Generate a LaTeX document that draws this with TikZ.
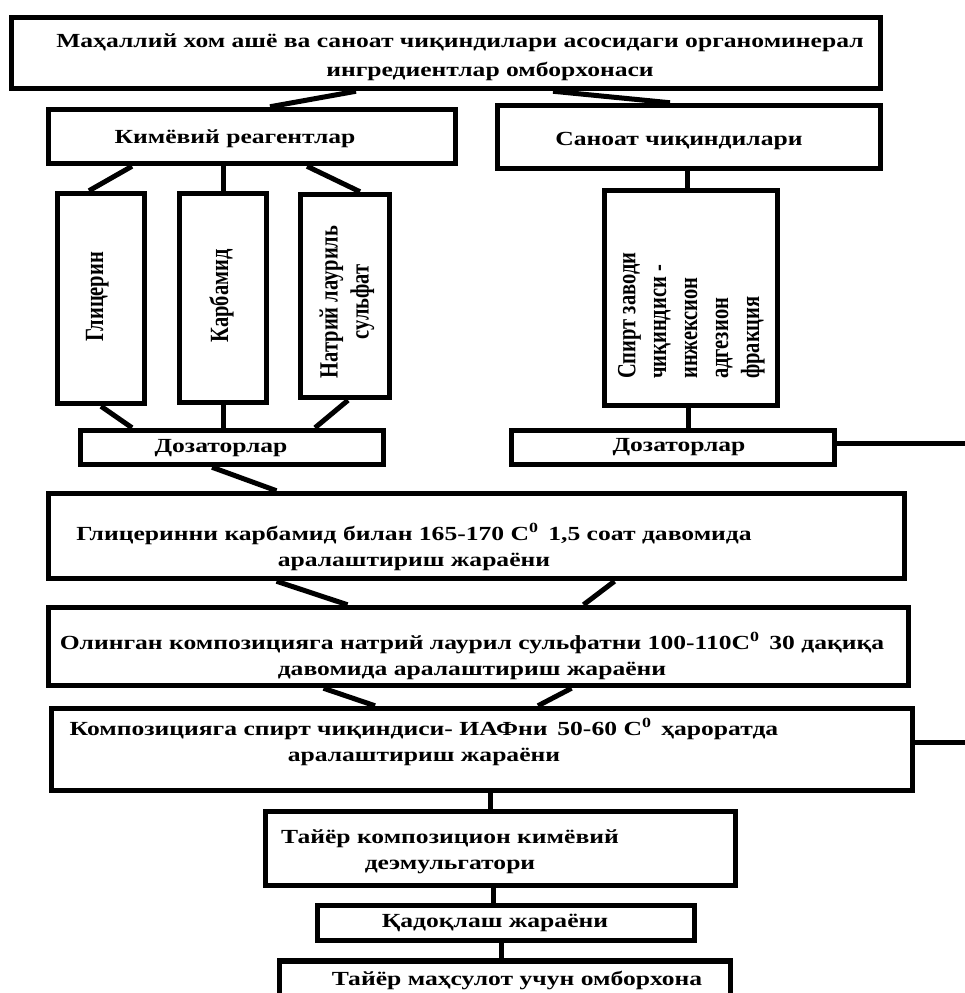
\documentclass[tikz,border=0pt]{standalone}
\usepackage{fontspec}
\setmainfont{Liberation Serif}
\newfontfamily\labelfont[FakeStretch=1.28]{Liberation Serif}
\usetikzlibrary{positioning}

% rotated text, widened across the lines
\newcommand{\vtext}[2]{\scalebox{1.28}[1]{\rotatebox{90}{\begin{tabular}{@{}#1@{}}#2\end{tabular}}}}

\tikzset{
    box/.style={draw, line width=5.5pt, rectangle, inner sep=0pt},
    link/.style={line width=5pt},
    lbl/.style={font=\labelfont\bfseries\fontsize{20}{26}\selectfont, align=center, inner sep=0pt},
    vlbl/.style={font=\bfseries\fontsize{20.5}{24.2}\selectfont, inner sep=0pt}
}

\begin{document}
\begin{tikzpicture}[x=1pt, y=-1pt]
    \useasboundingbox (0,0) rectangle (964,993);

    % Boxes
    \node[box, minimum width=869, minimum height=71] (store) at (446,53) {};
    \node[box, minimum width=407, minimum height=54] (chem) at (252,136.5) {};
    \node[box, minimum width=383, minimum height=63] (waste) at (689,137) {};
    \node[box, minimum width=87, minimum height=210] (glyc) at (101,298.5) {};
    \node[box, minimum width=87, minimum height=209] (carb) at (223,298) {};
    \node[box, minimum width=89, minimum height=203] (sls) at (345,296) {};
    \node[box, minimum width=173, minimum height=215] (spirt) at (691,298) {};
    \node[box, minimum width=303, minimum height=34] (dosL) at (232,447.5) {};
    \node[box, minimum width=323, minimum height=34] (dosR) at (673,447.5) {};
    \node[box, minimum width=856, minimum height=85] (mixA) at (476.5,536) {};
    \node[box, minimum width=860, minimum height=78] (mixB) at (478.5,646.5) {};
    \node[box, minimum width=861, minimum height=82] (mixC) at (482,749.5) {};
    \node[box, minimum width=470, minimum height=74] (ready) at (500.5,848.5) {};
    \node[box, minimum width=377, minimum height=35] (pack) at (506,923) {};
    \node[box, minimum width=451, minimum height=40] (depot) at (505,981) {};

    % Texts
    \node[lbl, font=\labelfont\bfseries\fontsize{20}{29}\selectfont] (t-store) at (460,57)
        {Маҳаллий хом ашё ва саноат чиқиндилари асосидаги органоминерал\\\hspace*{60pt}ингредиентлар омборхонаси};
    \node[lbl] (t-chem) at (235,139) {Кимёвий реагентлар};
    \node[lbl] (t-waste) at (679,141) {Саноат чиқиндилари};
    \node[vlbl] (t-glyc) at (97,297) {\vtext{c}{Глицерин}};
    \node[vlbl] (t-carb) at (222,296) {\vtext{c}{Карбамид}};
    \node[vlbl] (t-sls) at (347,302) {\vtext{c}{Натрий лауриль\\сульфат}};
    \node[vlbl, anchor=south] (t-spirt) at (691,379)
        {\vtext{l}{Спирт заводи\\чиқиндиси -\\инжексион\\адгезион\\фракция}};
    \node[lbl] (t-dosL) at (221,448) {Дозаторлар};
    \node[lbl] (t-dosR) at (679,447) {Дозаторлар};
    \node[lbl] (t-mixA) at (414,547)
        {Глицеринни карбамид билан 165-170 С\textsuperscript{0}\, 1,5 соат давомида\\аралаштириш жараёни};
    \node[lbl] (t-mixB) at (472,656)
        {Олинган композицияга натрий лаурил сульфатни 100-110С\textsuperscript{0}\, 30 дақиқа\\давомида аралаштириш жараёни};
    \node[lbl] (t-mixC) at (424,742)
        {Композицияга спирт чиқиндиси- ИАФни\, 50-60 С\textsuperscript{0}\, ҳароратда\\аралаштириш жараёни};
    \node[lbl] (t-ready) at (450,852) {Тайёр композицион кимёвий\\деэмульгатори};
    \node[lbl] (t-pack) at (495,923) {Қадоқлаш жараёни};
    \node[lbl] (t-depot) at (517,980) {Тайёр маҳсулот учун омборхона};

    % Connectors
    \coordinate (edgeA) at (966,443);
    \coordinate (edgeB) at (966,742);
    \draw[link] ([xshift=-90pt]store.south) -- ([xshift=18pt]chem.north);
    \draw[link] ([xshift=107pt]store.south) -- ([xshift=-19pt]waste.north);
    \draw[link] ([xshift=-120pt]chem.south) -- ([xshift=-12pt]glyc.north);
    \draw[link] (carb.north) -- (carb.north |- chem.south);
    \draw[link] ([xshift=55pt]chem.south) -- ([xshift=15pt]sls.north);
    \draw[link] ([xshift=-4pt]spirt.north) -- ([xshift=-4pt]spirt.north |- waste.south);
    \draw[link] (glyc.south) -- ([xshift=-100pt]dosL.north);
    \draw[link] (carb.south) -- (carb.south |- dosL.north);
    \draw[link] ([xshift=3pt]sls.south) -- ([xshift=83pt]dosL.north);
    \draw[link] ([xshift=-3pt]spirt.south) -- ([xshift=-3pt]spirt.south |- dosR.north);
    \draw[link] ([yshift=4.5pt]dosR.east) -- (edgeA);
    \draw[link] ([xshift=-20pt]dosL.south) -- ([xshift=-200pt]mixA.north);
    \draw[link] ([xshift=-200pt]mixA.south) -- ([xshift=-131pt]mixB.north);
    \draw[link] ([xshift=138pt]mixA.south) -- ([xshift=105pt]mixB.north);
    \draw[link] ([xshift=-155pt]mixB.south) -- ([xshift=-107pt]mixC.north);
    \draw[link] ([xshift=93pt]mixB.south) -- ([xshift=56pt]mixC.north);
    \draw[link] ([yshift=7.5pt]mixC.east) -- (edgeB);
    \draw[link] ([xshift=-10pt]ready.north) -- ([xshift=-10pt]ready.north |- mixC.south);
    \draw[link] ([xshift=-13pt]pack.north) -- ([xshift=-13pt]pack.north |- ready.south);
    \draw[link] ([xshift=-5pt]pack.south) -- ([xshift=-5pt]pack.south |- depot.north);
\end{tikzpicture}
\end{document}
